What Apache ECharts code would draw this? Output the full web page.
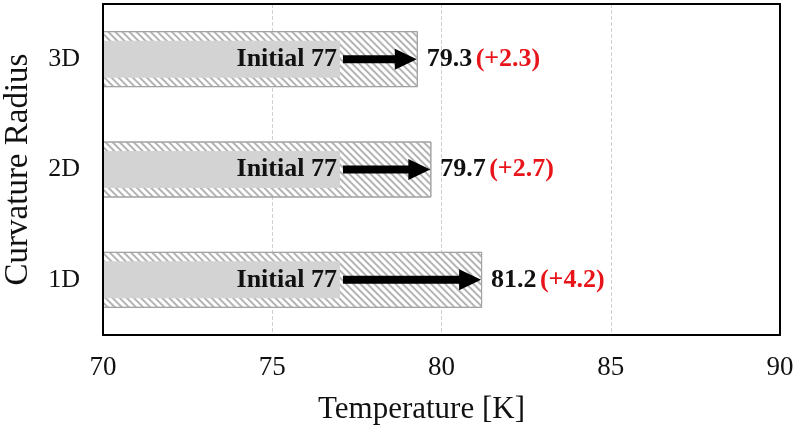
<!DOCTYPE html>
<html>
<head>
<meta charset="utf-8">
<script src="https://cdn.jsdelivr.net/npm/echarts@6/dist/echarts.min.js"></script>
<style>html,body{margin:0;padding:0;background:#fff}#c{width:800px;height:430px}</style>
</head>
<body>
<div id="c"></div>
<script>
const categories = ['1D', '2D', '3D'];
const initialValues = [77, 77, 77];
const finalValues = [81.2, 79.7, 79.3];
const deltaLabels = ['(+4.2)', '(+2.7)', '(+2.3)'];
const xTicks = [70, 75, 80, 85, 90];

const FONT = '"Liberation Serif", "Times New Roman", serif';
const chart = echarts.init(document.getElementById('c'));
const borderLine = { show: true, lineStyle: { color: '#000', width: 2 } };
chart.setOption({
  animation: false,
  grid: { left: 103, right: 20, top: 4, bottom: 95, outerBoundsMode: 'none', containLabel: false },
  xAxis: [{
    type: 'value', min: xTicks[0], max: xTicks[xTicks.length - 1], interval: 5, z: 0,
    name: 'Temperature [K]', nameLocation: 'middle', nameGap: 59,
    nameTextStyle: { fontFamily: FONT, fontSize: 31, color: '#111', padding: [0, 40, 0, 0] },
    axisLine: borderLine,
    axisTick: { show: false },
    axisLabel: { fontFamily: FONT, fontSize: 27, color: '#111', margin: 19 },
    splitLine: { show: true, showMinLine: false, showMaxLine: false, lineStyle: { type: 'dashed', color: '#d0d0d0', width: 1 } }
  }, {
    type: 'value', position: 'top', min: xTicks[0], max: xTicks[xTicks.length - 1], z: 6,
    axisLine: borderLine, axisTick: { show: false }, axisLabel: { show: false }, splitLine: { show: false }
  }],
  yAxis: [{
    type: 'category', data: categories, z: 6,
    name: 'Curvature Radius', nameLocation: 'middle', nameGap: 68,
    nameTextStyle: { fontFamily: FONT, fontSize: 33, color: '#111' },
    axisLine: borderLine,
    axisTick: { show: false },
    axisLabel: { fontFamily: FONT, fontSize: 26, color: '#111', margin: 23 },
    splitLine: { show: false }
  }, {
    type: 'category', data: categories, position: 'right', z: 6,
    axisLine: borderLine, axisTick: { show: false }, axisLabel: { show: false }, splitLine: { show: false }
  }],
  series: [
    {
      type: 'bar', data: finalValues, barWidth: 56, z: 2, yAxisIndex: 0,
      itemStyle: {
        color: '#fff', borderColor: '#a0a0a0', borderWidth: 1,
        decal: { symbol: 'rect', symbolSize: 1, color: '#b4b4b4', dashArrayX: [1, 0], dashArrayY: [1.5, 2.5], rotation: Math.PI / 4 }
      },
      label: {
        show: true, position: 'right', distance: 9,
        formatter: p => '{v|' + finalValues[p.dataIndex] + '} {d|' + deltaLabels[p.dataIndex] + '}',
        rich: {
          v: { fontFamily: FONT, fontSize: 26, fontWeight: 'bold', color: '#111' },
          d: { fontFamily: FONT, fontSize: 26, fontWeight: 'bold', color: '#e8141a' }
        }
      }
    },
    {
      type: 'bar', data: initialValues, barWidth: 37, z: 3, yAxisIndex: 1,
      itemStyle: { color: '#d3d3d3' },
      label: {
        show: true, position: 'insideRight', distance: 3,
        formatter: p => 'Initial ' + initialValues[p.dataIndex],
        fontFamily: FONT, fontSize: 26, fontWeight: 'bold', color: '#111'
      }
    },
    {
      type: 'custom', z: 5, yAxisIndex: 0,
      data: categories.map((c, i) => [initialValues[i], finalValues[i], i]),
      encode: { x: [0, 1], y: 2 },
      renderItem: (params, api) => {
        const s = api.coord([api.value(0), api.value(2)]);
        const e = api.coord([api.value(1), api.value(2)]);
        const y = s[1], hw = 4, hh = 10.5, hl = 22;
        const x0 = s[0] + 3, x1 = e[0] - 1;
        return {
          type: 'polygon',
          shape: { points: [[x0, y - hw], [x1 - hl, y - hw], [x1 - hl, y - hh], [x1, y], [x1 - hl, y + hh], [x1 - hl, y + hw], [x0, y + hw]] },
          style: { fill: '#000' }
        };
      }
    }
  ]
});
</script>
</body>
</html>
